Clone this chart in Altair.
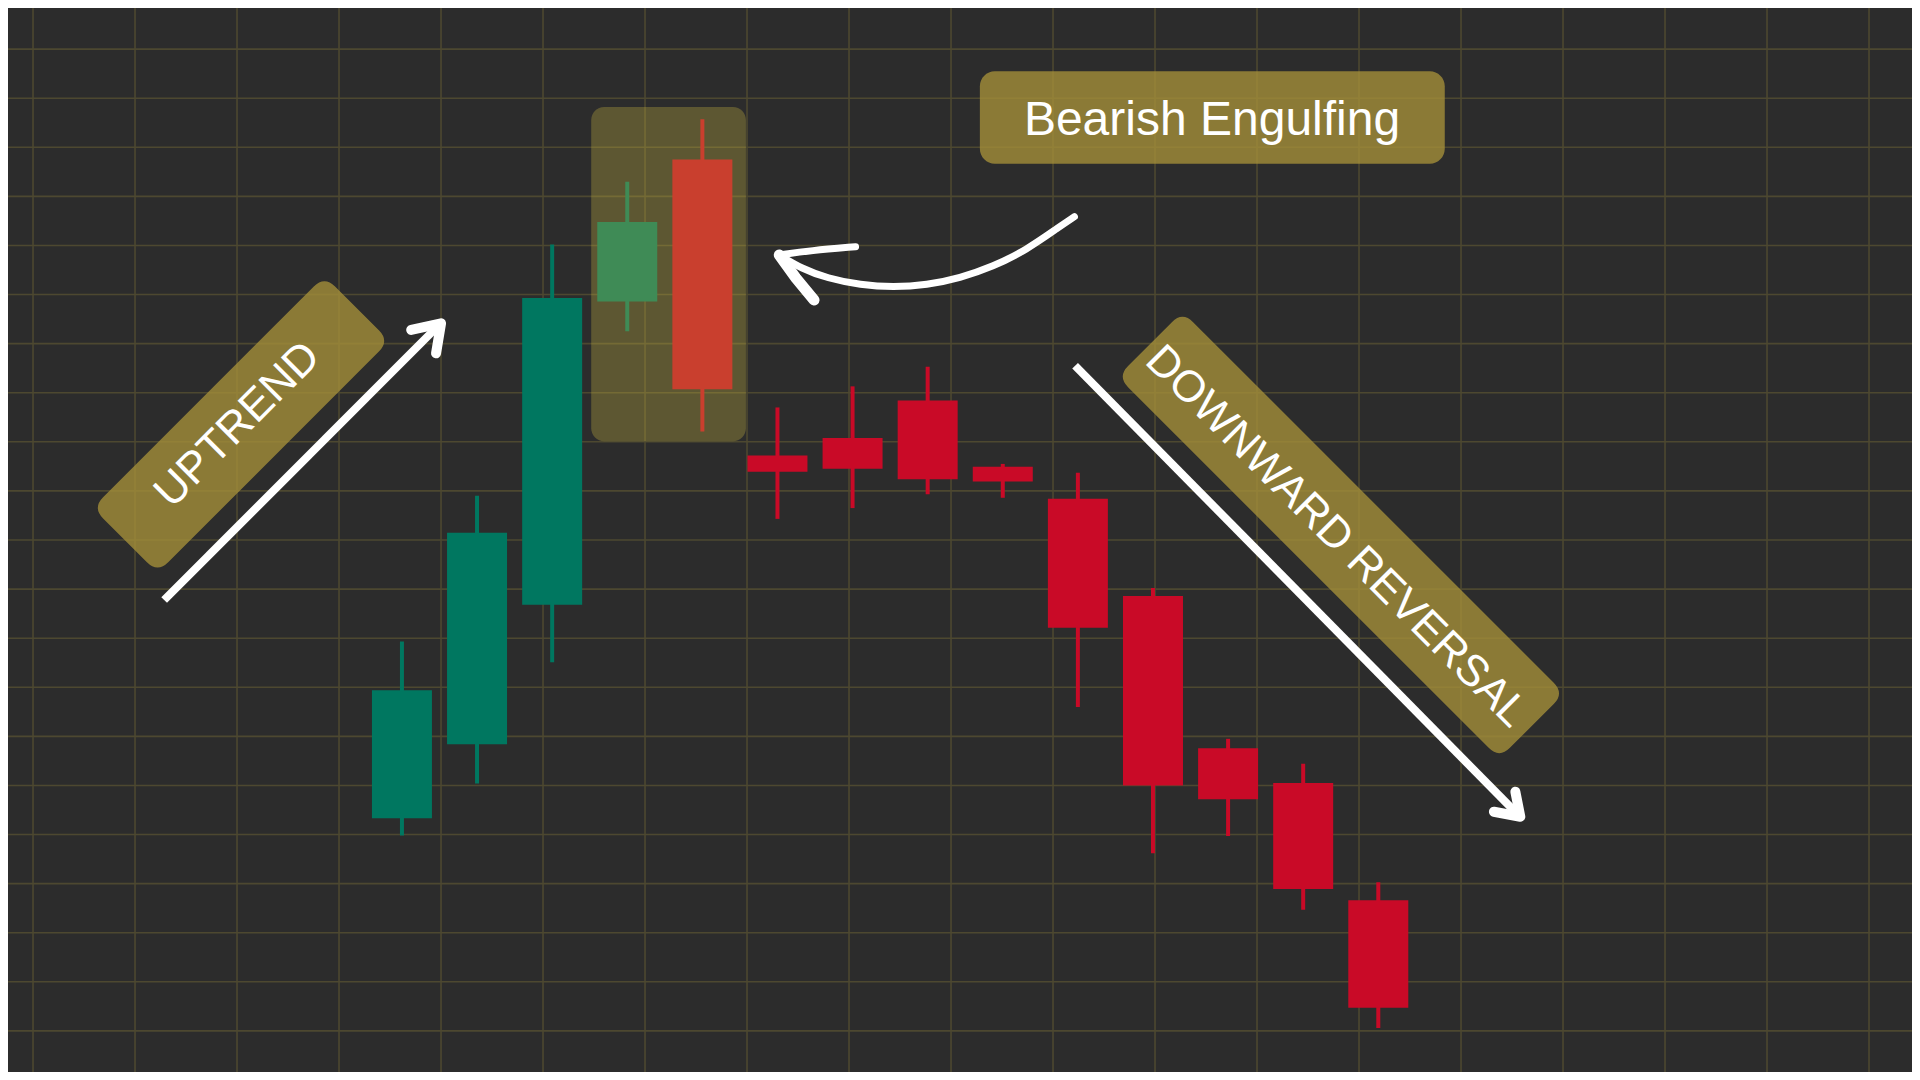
import altair as alt
import pandas as pd

# ---------------- data ----------------
idx    = list(range(1, 15))
opens  = [53.3, 68.4, 96.8, 158.6, 187.5, 127.2, 130.8, 138.4, 124.9, 118.4, 98.6, 67.6, 60.5, 36.6]
closes = [79.4, 111.5, 159.3, 174.8, 140.7, 123.9, 124.5, 122.4, 121.9, 92.1, 60.0, 57.2, 38.9, 14.7]
highs  = [89.3, 119.0, 170.2, 183.0, 195.7, 137.0, 141.3, 145.3, 125.5, 123.7, 100.2, 69.5, 64.4, 40.3]
lows   = [49.8, 60.4, 85.1, 152.5, 132.1, 114.3, 116.5, 119.3, 118.6, 76.0, 46.2, 49.7, 34.7, 10.6]

grid_cols = list(range(0, 19))
grid_rows = list(range(0, 230, 10))

labels = ["Bearish Engulfing", "UPTREND", "DOWNWARD REVERSAL"]

# highlight box around the engulfing pair (index / price units)
hl_x = [3.52, 5.58]
hl_y = [130.1, 198.2]
# "Bearish Engulfing" label box and text anchor
be_x = [8.695, 14.885]
be_y = [186.65, 205.5]
be_text = [11.786, 192.5]
# rotated label boxes (centre) and their text anchors
up_box = [-1.143, 133.55]
up_text = [-1.185, 133.42]
dn_box = [13.502, 111.02]
dn_text = [13.441, 110.67]

# arrows
up_shaft_i = [-2.166, 1.50]
up_shaft_p = [97.77, 153.9]
up_head_i = [1.123, 1.5205, 1.454]
up_head_p = [152.78, 154.14, 148.03]

dn_shaft_i = [9.963, 15.87]
dn_shaft_p = [145.5, 53.9]
dn_head_i = [15.539, 15.891, 15.825]
dn_head_p = [54.65, 53.63, 58.72]

cv_i = [9.954, 9.755, 9.314, 8.868, 8.430, 7.989, 7.543, 7.106, 6.665, 6.311, 6.024]
cv_p = [175.86, 173.82, 169.07, 165.67, 163.37, 161.94, 161.47, 161.94, 163.31, 165.35, 168.05]
cv_up_i = [7.040, 6.444, 6.024]
cv_up_p = [169.75, 168.97, 168.05]
cv_lo_i = [6.024, 6.245, 6.487]
cv_lo_p = [168.05, 163.37, 158.89]

# ---------------- styling ----------------
BG = "#2c2c2c"
GRID = "#4d4830"
BULL = "#007760"
BEAR = "#c90a27"
LABEL_FILL = "#a48f39"
HL_FILL = "#cbb842"
FONT = "Liberation Sans"

W, H = 1904, 1064
XDOM = [-4.1788, 21.0397]
YDOM = [1.63, 218.37]
GXDOM = [-0.2451, 18.4216]


def X(f):
    return alt.X(f, type="quantitative", scale=alt.Scale(domain=XDOM, nice=False, zero=False), axis=None)


def Y(f):
    return alt.Y(f, type="quantitative", scale=alt.Scale(domain=YDOM, nice=False, zero=False), axis=None)


cdf = pd.DataFrame({"i": idx, "open": opens, "close": closes, "high": highs, "low": lows})
cdf["dir"] = ["up" if c > o else "down" for o, c in zip(opens, closes)]
col = alt.Color("dir:N", scale=alt.Scale(domain=["up", "down"], range=[BULL, BEAR]), legend=None)

vrules = alt.Chart(pd.DataFrame({"gx": grid_cols})).mark_rule(color=GRID, strokeWidth=1.6).encode(
    x=alt.X("gx:Q", scale=alt.Scale(domain=GXDOM, nice=False, zero=False), axis=None)
)
hrules = alt.Chart(pd.DataFrame({"gy": grid_rows})).mark_rule(color=GRID, strokeWidth=1.6).encode(y=Y("gy"))

wicks = alt.Chart(cdf).mark_rule(strokeWidth=4).encode(x=X("i"), y=Y("low"), y2="high", color=col)
bodies = alt.Chart(cdf).mark_bar(width=60).encode(x=X("i"), y=Y("open"), y2="close", color=col)

highlight = alt.Chart(pd.DataFrame({"x1": [hl_x[0]], "x2": [hl_x[1]], "y1": [hl_y[0]], "y2": [hl_y[1]]})).mark_rect(
    cornerRadius=13, color=HL_FILL, opacity=0.31
).encode(x=X("x1"), x2="x2", y=Y("y1"), y2="y2")

be_box = alt.Chart(pd.DataFrame({"x1": [be_x[0]], "x2": [be_x[1]], "y1": [be_y[0]], "y2": [be_y[1]]})).mark_rect(
    cornerRadius=15, color=LABEL_FILL, opacity=0.8
).encode(x=X("x1"), x2="x2", y=Y("y1"), y2="y2")


def rounded_path(h, c):
    return (f"M{-1 + c},{-h} L{1 - c},{-h} Q1,{-h} 1,{-h + c} L1,{h - c} Q1,{h} {1 - c},{h} "
            f"L{-1 + c},{h} Q-1,{h} -1,{h - c} L-1,{-h + c} Q-1,{-h} {-1 + c},{-h} Z")


up_rot = alt.Chart(pd.DataFrame({"i": [up_box[0]], "p": [up_box[1]]})).mark_point(
    shape=rounded_path(46 / 164, 15 / 164), size=328 * 328, angle=315, filled=True,
    color=LABEL_FILL, opacity=0.8, strokeWidth=0
).encode(x=X("i"), y=Y("p"))

dn_rot = alt.Chart(pd.DataFrame({"i": [dn_box[0]], "p": [dn_box[1]]})).mark_point(
    shape=rounded_path(46 / 270, 15 / 270), size=540 * 540, angle=45, filled=True,
    color=LABEL_FILL, opacity=0.8, strokeWidth=0
).encode(x=X("i"), y=Y("p"))

t_be = alt.Chart(pd.DataFrame({"i": [be_text[0]], "p": [be_text[1]], "t": [labels[0]]})).mark_text(
    font=FONT, fontSize=48, color="white", align="center", baseline="alphabetic"
).encode(x=X("i"), y=Y("p"), text="t:N")
t_up = alt.Chart(pd.DataFrame({"i": [up_text[0]], "p": [up_text[1]], "t": [labels[1]]})).mark_text(
    font=FONT, fontSize=44, color="white", align="center", baseline="middle", angle=315
).encode(x=X("i"), y=Y("p"), text="t:N")
t_dn = alt.Chart(pd.DataFrame({"i": [dn_text[0]], "p": [dn_text[1]], "t": [labels[2]]})).mark_text(
    font=FONT, fontSize=44, color="white", align="center", baseline="middle", angle=45
).encode(x=X("i"), y=Y("p"), text="t:N")


def seg_df(segs):
    rows = []
    for s, (ii, pp) in enumerate(segs):
        for k, (a, b) in enumerate(zip(ii, pp)):
            rows.append({"i": a, "p": b, "seg": s, "ord": k})
    return pd.DataFrame(rows)


shafts = alt.Chart(seg_df([(up_shaft_i, up_shaft_p), (dn_shaft_i, dn_shaft_p)])).mark_line(
    color="white", strokeWidth=8, strokeCap="butt"
).encode(x=X("i"), y=Y("p"), detail="seg:N", order="ord:Q")

heads = alt.Chart(seg_df([(up_head_i, up_head_p), (dn_head_i, dn_head_p)])).mark_line(
    color="white", strokeWidth=10, strokeCap="round", strokeJoin="round"
).encode(x=X("i"), y=Y("p"), detail="seg:N", order="ord:Q")

curve = alt.Chart(seg_df([(cv_i, cv_p)])).mark_line(
    color="white", strokeWidth=7, strokeCap="round", interpolate="basis"
).encode(x=X("i"), y=Y("p"), detail="seg:N", order="ord:Q")

curve_up = alt.Chart(seg_df([(cv_up_i, cv_up_p)])).mark_line(
    color="white", strokeWidth=7, strokeCap="round", strokeJoin="round", interpolate="basis"
).encode(x=X("i"), y=Y("p"), detail="seg:N", order="ord:Q")

curve_lo = alt.Chart(seg_df([(cv_lo_i, cv_lo_p)])).mark_line(
    color="white", strokeWidth=11, strokeCap="round", strokeJoin="round"
).encode(x=X("i"), y=Y("p"), detail="seg:N", order="ord:Q")

inner = alt.layer(
    hrules, wicks, bodies, highlight, be_box, up_rot, dn_rot,
    shafts, heads, curve, curve_up, curve_lo, t_be, t_up, t_dn
)

chart = alt.layer(vrules, inner).resolve_scale(x="independent").properties(
    width=W, height=H, padding=0,
    autosize=alt.AutoSizeParams(type="none"),
    background=BG,
).configure_view(stroke=None)

chart.save("out.html", embed_options={"renderer": "svg", "actions": False})
